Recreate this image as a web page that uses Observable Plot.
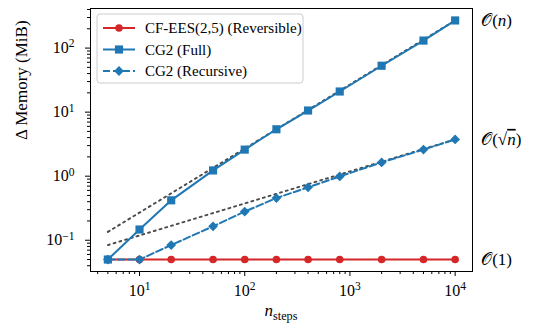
<!DOCTYPE html>
<html><head><meta charset="utf-8">
<script src="https://cdn.jsdelivr.net/npm/d3@7"></script>
<script src="https://cdn.jsdelivr.net/npm/@observablehq/plot@0.6"></script>
<style>body{margin:0;background:#fff}</style>
</head><body><div id="chart"></div>
<script>
const nSteps = [5, 10, 20, 50, 100, 200, 400, 800, 2000, 5000, 10000];
const memReversible = [0.05, 0.05, 0.05, 0.05, 0.05, 0.05, 0.05, 0.05, 0.05, 0.05, 0.05];
const memFull = [0.05, 0.147, 0.42, 1.23, 2.6, 5.4, 10.6, 21, 53, 131, 270];
const memRecursive = [0.05, 0.05, 0.084, 0.165, 0.28, 0.455, 0.67, 0.99, 1.64, 2.6, 3.75];
const refX = [5, 10000];
const refLinear = [0.135, 270];
const refSqrt = [0.084, 3.75];
const seriesNames = ["CF-EES(2,5) (Reversible)", "CG2 (Full)", "CG2 (Recursive)"];
const annotLabels = ["𝒪(n)", "𝒪(√n)", "𝒪(1)"];
const annotY = [270, 3.75, 0.05];
const xMajor = [10, 100, 1000, 10000];
const yMajor = [0.1, 1, 10, 100];

const red = "#d62728", blue = "#1f77b4";
const font = "Liberation Serif, Times New Roman, serif";
const rows = (ys) => nSteps.map((x, i) => ({x, y: ys[i]}));
const refRows = (ys) => refX.map((x, i) => ({x, y: ys[i]}));
const minor = (lo, hi) => { const out = []; for (let e = lo; e <= hi; e++) for (let k = 2; k <= 9; k++) out.push(k * 10 ** e); return out; };
const xMinor = minor(0, 4).filter(v => v > 3.42 && v < 14620);
const yMinor = minor(-2, 2).filter(v => v > 0.0325 && v < 415);
const expFmt = d => "10^" + Math.round(Math.log10(d));

const chart = Plot.plot({
  width: 545, height: 326,
  marginLeft: 90, marginRight: 73, marginTop: 8, marginBottom: 55,
  x: {type: "log", domain: [3.42, 14620]},
  y: {type: "log", domain: [0.0325, 415]},
  style: {fontFamily: font, fontSize: "16px", background: "white", color: "black"},
  marks: [
    Plot.axisX(xMajor, {tickSize: 5, tickPadding: 8, tickFormat: expFmt, label: null, fontSize: 16}),
    Plot.axisX(xMinor, {tickSize: 3, tickFormat: () => "", label: null}),
    Plot.axisY(yMajor, {tickSize: 5, tickPadding: 11, tickFormat: expFmt, label: null, fontSize: 16}),
    Plot.axisY(yMinor, {tickSize: 3, tickFormat: () => "", label: null}),
    Plot.line(refRows(refLinear), {x: "x", y: "y", stroke: "#4a4a4a", strokeWidth: 1.9, strokeDasharray: "2,4"}),
    Plot.line(refRows(refSqrt), {x: "x", y: "y", stroke: "#4a4a4a", strokeWidth: 1.9, strokeDasharray: "2,4"}),
    Plot.line(rows(memReversible), {x: "x", y: "y", stroke: red, strokeWidth: 2}),
    Plot.dot(rows(memReversible), {x: "x", y: "y", fill: red, r: 3.8, symbol: "circle"}),
    Plot.line(rows(memFull), {x: "x", y: "y", stroke: blue, strokeWidth: 2}),
    Plot.dot(rows(memFull), {x: "x", y: "y", fill: blue, r: 4.6, symbol: "square"}),
    Plot.line(rows(memRecursive), {x: "x", y: "y", stroke: blue, strokeWidth: 2, strokeDasharray: "7,3"}),
    Plot.dot(rows(memRecursive), {x: "x", y: "y", fill: blue, r: 4.4, symbol: "diamond2"}),
    Plot.text(annotLabels.map((t, i) => ({t, y: annotY[i]})), {x: () => 10000, y: "y", text: "t", dx: 26, textAnchor: "start", fontSize: 17, clip: false}),
    Plot.text(["Δ Memory (MiB)"], {frameAnchor: "left", rotate: -90, dx: -69, fontSize: 17}),
    Plot.frame({stroke: "black", strokeWidth: 1})
  ]
});
document.getElementById("chart").appendChild(chart);

const svg = d3.select(chart);
svg.selectAll("g[aria-label$='tick label'] text").each(function() {
  const s = d3.select(this); const t = s.text();
  if (!t.startsWith("10^")) return;
  const e = t.slice(3).replace("-", "\u2212");
  s.text("10");
  s.append("tspan").attr("dy", "-0.5em").attr("font-size", "0.72em").text(e);
});
svg.selectAll("text").each(function() {
  const s = d3.select(this); const t = s.text();
  if (!t.startsWith("𝒪(") || t === "𝒪(1)") return;
  const sq = t.includes("√");
  s.text(sq ? "𝒪(√" : "𝒪(");
  const n = s.append("tspan").attr("font-style", "italic").text("n");
  if (sq) n.attr("text-decoration", "overline");
  s.append("tspan").attr("font-style", "normal").text(")");
});
const xl = svg.append("text").attr("x", 281).attr("y", 316).attr("text-anchor", "middle")
  .attr("font-family", font).attr("font-size", 17);
xl.append("tspan").attr("font-style", "italic").text("n");
xl.append("tspan").attr("dy", "0.3em").attr("font-size", "0.72em").text("steps");

const lg = svg.append("g").attr("transform", "translate(97,14)");
lg.append("rect").attr("width", 206).attr("height", 69).attr("rx", 3).attr("fill", "white").attr("fill-opacity", 0.8).attr("stroke", "#cccccc");
const entries = [
  {color: red, dash: null, sym: "circle", r: 3.8},
  {color: blue, dash: null, sym: "square", r: 4.6},
  {color: blue, dash: "7,3", sym: "diamond2", r: 4.4}
];
const symMap = {circle: d3.symbolCircle, square: d3.symbolSquare, diamond2: d3.symbolDiamond2};
entries.forEach((en, i) => {
  const y = 14 + i * 21.5;
  lg.append("line").attr("x1", 6).attr("x2", 38).attr("y1", y).attr("y2", y).attr("stroke", en.color).attr("stroke-width", 2).attr("stroke-dasharray", en.dash);
  lg.append("path").attr("d", d3.symbol(symMap[en.sym], Math.PI * en.r * en.r)()).attr("transform", `translate(22,${y})`).attr("fill", en.color);
  lg.append("text").attr("x", 48).attr("y", y).attr("dy", "0.35em").attr("text-anchor", "start").attr("font-family", font).attr("font-size", 15).text(seriesNames[i]);
});
</script></body></html>
